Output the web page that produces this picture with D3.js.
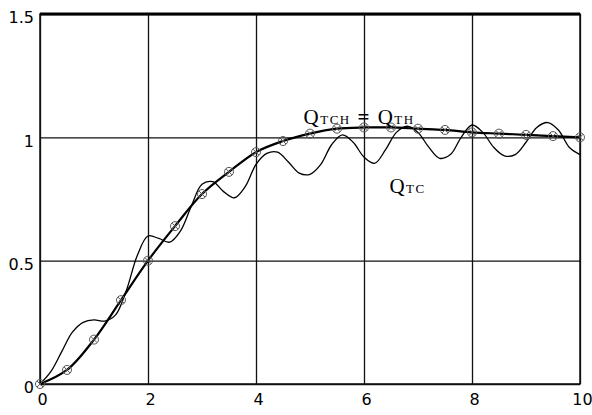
<!DOCTYPE html>
<html>
<head>
<meta charset="utf-8">
<script src="https://d3js.org/d3.v7.min.js"></script>
<style>
body { margin: 0; background: #fff; }
.tick text { font-family: "DejaVu Sans", sans-serif; font-size: 16px; fill: #000; }
</style>
</head>
<body>
<div id="chart"></div>
<script>
// ticks
var xTicks = [0, 2, 4, 6, 8, 10];
var yTicks = [0, 0.5, 1, 1.5];

// smooth responses, read every 0.5
var tSmooth = [0, 0.5, 1, 1.5, 2, 2.5, 3, 3.5, 4, 4.5, 5, 5.5, 6, 6.5, 7, 7.5, 8, 8.5, 9, 9.5, 10];
var qTCH = [0, 0.057, 0.18, 0.34, 0.5, 0.64, 0.77, 0.86, 0.94, 0.985, 1.015, 1.035, 1.04, 1.04, 1.035, 1.03, 1.02, 1.015, 1.01, 1.005, 1.0];
var qTH  = [0, 0.057, 0.18, 0.34, 0.5, 0.64, 0.77, 0.86, 0.94, 0.985, 1.015, 1.035, 1.04, 1.04, 1.035, 1.03, 1.02, 1.015, 1.01, 1.005, 1.0];

// oscillating response, read every 0.2
var tQTC = [0, 0.2, 0.4, 0.6, 0.8, 1.0, 1.2, 1.4, 1.6, 1.8, 2.0, 2.2, 2.4, 2.6, 2.8, 3.0, 3.2, 3.4, 3.6, 3.8, 4.0,
            4.2, 4.4, 4.6, 4.8, 5.0, 5.2, 5.4, 5.6, 5.8, 6.0, 6.2, 6.4, 6.6, 6.8, 7.0, 7.2, 7.4, 7.6, 7.8, 8.0,
            8.2, 8.4, 8.6, 8.8, 9.0, 9.2, 9.4, 9.6, 9.8, 10];
var qTC = [0, 0.05, 0.13, 0.21, 0.25, 0.26, 0.255, 0.28, 0.38, 0.52, 0.60, 0.59, 0.575, 0.62, 0.72, 0.81, 0.82, 0.78, 0.755, 0.80, 0.89,
           0.935, 0.94, 0.90, 0.855, 0.85, 0.89, 0.97, 1.01, 0.98, 0.92, 0.895, 0.95, 1.02, 1.045, 1.02, 0.96, 0.915, 0.93, 1.0, 1.05,
           1.02, 0.96, 0.925, 0.93, 0.98, 1.04, 1.06, 1.03, 0.96, 0.93];

var W = 592, H = 415;
var margin = {top: 14, right: 12, bottom: 31, left: 40},
    width = W - margin.left - margin.right,
    height = H - margin.top - margin.bottom;

var svg = d3.select("#chart").append("svg")
    .attr("width", W).attr("height", H)
  .append("g")
    .attr("transform", "translate(" + margin.left + "," + margin.top + ")");

var x = d3.scaleLinear().domain([0, 10]).range([0, width]);
var y = d3.scaleLinear().domain([0, 1.5]).range([height, 0]);

// grid + labels
var gx = svg.append("g")
    .attr("transform", "translate(0," + height + ")")
    .call(d3.axisBottom(x).tickValues(xTicks).tickSize(-height).tickPadding(8).tickFormat(d3.format("d")));
gx.select(".domain").remove();
gx.selectAll(".tick line").attr("stroke", "#111").attr("stroke-width", 1.3);
gx.selectAll(".tick text").attr("dx", 2).attr("dy", "0.8em");

var gy = svg.append("g")
    .call(d3.axisLeft(y).tickValues(yTicks).tickSize(-width).tickPadding(6).tickFormat(function(d) { return String(d); }));
gy.select(".domain").remove();
gy.selectAll(".tick line").attr("stroke", "#111").attr("stroke-width", 1.3);
gy.selectAll(".tick text").attr("dy", "0.55em");

// frame
svg.append("rect").attr("width", width).attr("height", height)
  .attr("fill", "none").attr("stroke", "#111").attr("stroke-width", 1.5);
svg.append("line").attr("x1", 0).attr("x2", width).attr("y1", 0).attr("y2", 0)
  .attr("stroke", "#000").attr("stroke-width", 3);

var lineSmooth = d3.line()
  .x(function(d, i) { return x(tSmooth[i]); })
  .y(function(d) { return y(d); })
  .curve(d3.curveCatmullRom);

var lineQTC = d3.line()
  .x(function(d, i) { return x(tQTC[i]); })
  .y(function(d) { return y(d); })
  .curve(d3.curveCatmullRom);

svg.append("path").datum(qTC).attr("d", lineQTC)
  .attr("fill", "none").attr("stroke", "#000").attr("stroke-width", 1.3);

svg.append("path").datum(qTH).attr("d", lineSmooth)
  .attr("fill", "none").attr("stroke", "#000").attr("stroke-width", 1);

svg.append("path").datum(qTCH).attr("d", lineSmooth)
  .attr("fill", "none").attr("stroke", "#000").attr("stroke-width", 2.2);

// markers: circle with a cross
var mk = svg.append("g").selectAll("g").data(qTH).enter().append("g")
  .attr("transform", function(d, i) { return "translate(" + x(tSmooth[i]) + "," + y(d) + ")"; });
mk.append("circle").attr("r", 4.5).attr("fill", "none").attr("stroke", "#555").attr("stroke-width", 1);
mk.append("path").attr("d", "M-3,-3L3,3M-3,3L3,-3").attr("stroke", "#555").attr("stroke-width", 1);

// labels
var lab1 = svg.append("text").attr("x", x(4.88)).attr("y", y(1.054))
  .attr("font-family", "Liberation Serif, serif").attr("fill", "#000").attr("letter-spacing", 1.5);
lab1.append("tspan").attr("font-size", 21).text("Q");
lab1.append("tspan").attr("font-size", 13).text("TCH");
lab1.append("tspan").attr("font-size", 21).attr("font-weight", "bold").text(" = ");
lab1.append("tspan").attr("font-size", 21).text("Q");
lab1.append("tspan").attr("font-size", 13).text("TH");

var lab2 = svg.append("text").attr("x", x(6.47)).attr("y", y(0.774))
  .attr("font-family", "Liberation Serif, serif").attr("fill", "#000").attr("letter-spacing", 1.5);
lab2.append("tspan").attr("font-size", 21).text("Q");
lab2.append("tspan").attr("font-size", 13).text("TC");
</script>
</body>
</html>
